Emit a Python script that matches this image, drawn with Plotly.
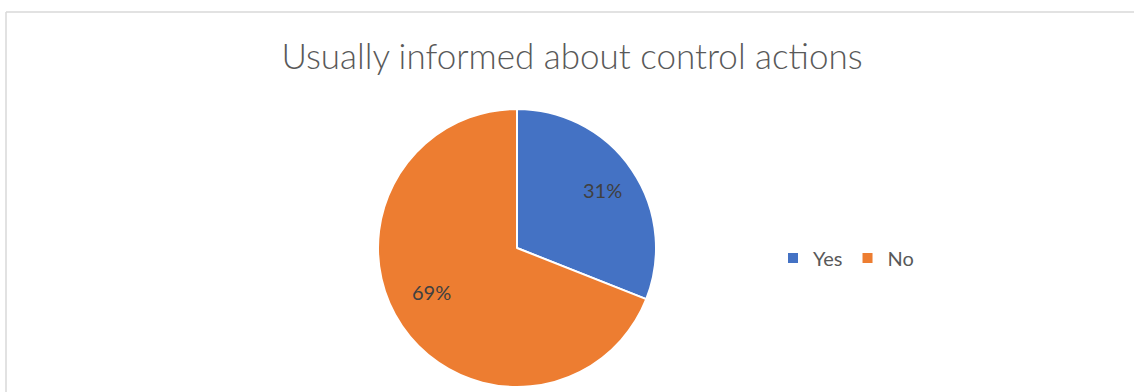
import math
import plotly.graph_objects as go

# Survey answers: share of respondents usually informed about control actions
labels = ["Yes", "No"]
shares = [31, 69]
colors = ["#4472C4", "#ED7D31"]

W, H = 1134, 392
cx, cy, r = 517, 248, 139  # pie centre and radius in pixels

fig = go.Figure(
    go.Pie(
        labels=labels,
        values=shares,
        sort=False,
        direction="clockwise",
        rotation=0,
        marker=dict(colors=colors, line=dict(color="white", width=2)),
        textinfo="none",
        hoverinfo="label+percent",
        domain=dict(x=[(cx - r) / W, (cx + r) / W], y=[(H - cy - r) / H, (H - cy + r) / H]),
    )
)

# Percentage labels placed along each slice's bisector at ~74% of the radius
total = sum(shares)
cum = 0
annotations = []
for lab, v in zip(labels, shares):
    mid = (cum + v / 2) / total * 2 * math.pi
    cum += v
    px = cx + 0.74 * r * math.sin(mid)
    py = cy - 0.74 * r * math.cos(mid)
    annotations.append(
        dict(
            x=px / W, y=1 - py / H, xref="paper", yref="paper",
            text=f"{round(v / total * 100)}%", showarrow=False,
            font=dict(family="Lato", size=20, color="#404040"),
        )
    )

fig.update_layout(
    width=W,
    height=H,
    margin=dict(l=0, r=0, t=0, b=0),
    paper_bgcolor="white",
    plot_bgcolor="white",
    title=dict(
        text="Usually informed about control actions",
        x=572 / W, xanchor="center", y=1 - 57 / H, yanchor="middle",
        font=dict(family="Lato", size=35, color="#595959", weight=300),
    ),
    legend=dict(
        orientation="h",
        x=773 / W, xanchor="left",
        y=1 - 258 / H, yanchor="middle",
        font=dict(family="Lato", size=20, color="#595959"),
        itemwidth=30,
    ),
    annotations=annotations,
    shapes=[
        dict(type="line", xref="paper", yref="paper", x0=6 / W, x1=1.01, y0=1 - 12 / H, y1=1 - 12 / H,
             line=dict(color="#D9D9D9", width=1.5)),
        dict(type="line", xref="paper", yref="paper", x0=6 / W, x1=6 / W, y0=1 - 12 / H, y1=-0.01,
             line=dict(color="#D9D9D9", width=1.5)),
    ],
)

fig.write_html("out.html")
